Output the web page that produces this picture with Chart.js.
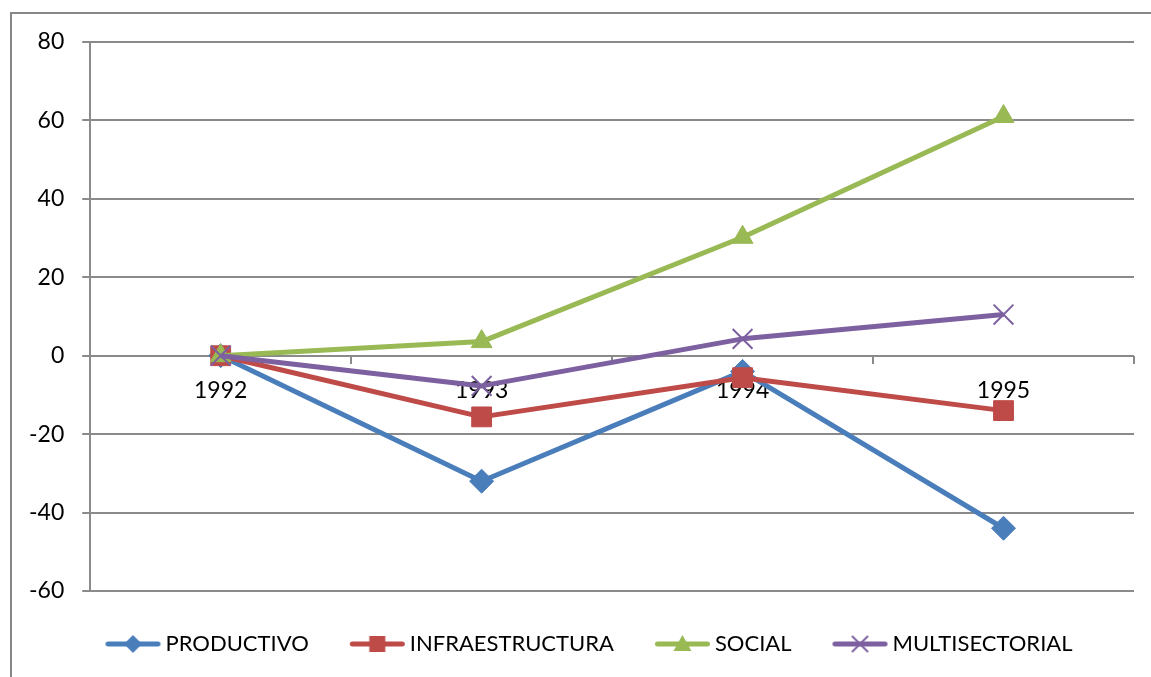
<!DOCTYPE html>
<html>
<head>
<meta charset="utf-8">
<script src="https://cdn.jsdelivr.net/npm/chart.js@4.4.0/dist/chart.umd.min.js"></script>
<style>
  html, body { margin: 0; padding: 0; background: #fff; }
  #wrap { position: relative; width: 1151px; height: 677px; overflow: hidden; }
  #frame { position: absolute; left: 10px; top: 12px; width: 1200px; height: 700px;
           border-left: 2px solid #878787; border-top: 2px solid #878787; }
  canvas { position: absolute; left: 0; top: 0; }
</style>
</head>
<body>
<div id="wrap">
  <div id="frame"></div>
  <canvas id="grafico" width="1151" height="677"></canvas>
</div>
<script>
// datos
var years = ['1992', '1993', '1994', '1995'];
var productivo = [0, -32, -4, -44];
var infraestructura = [0, -15.6, -5.6, -14];
var social = [0, 3.6, 30.2, 61];
var multisectorial = [0, -7.7, 4.3, 10.5];
var yTicks = [-60, -40, -20, 0, 20, 40, 60, 80];

var fuente = { family: 'Lato', size: 23 };
var fuenteLeyenda = { family: 'Lato', size: 22 };
var gris = '#8a8a8a';

// icono de la leyenda: linea con marcador, pegado a la derecha de la caja
function iconoLeyenda(color, forma) {
	var c = document.createElement('canvas');
	c.width = 68; c.height = 22;
	var g = c.getContext('2d');
	var cx = 36.5, cy = 11;
	g.strokeStyle = color;
	g.fillStyle = color;
	g.lineWidth = 5;
	g.lineCap = 'round';
	g.beginPath(); g.moveTo(11.5, cy); g.lineTo(61.5, cy); g.stroke();
	g.beginPath();
	if (forma == 'diamante') {
		g.moveTo(cx, cy - 9); g.lineTo(cx + 9, cy); g.lineTo(cx, cy + 9); g.lineTo(cx - 9, cy); g.closePath(); g.fill();
	} else if (forma == 'cuadro') {
		g.fillRect(cx - 8, cy - 8, 16, 16);
	} else if (forma == 'triangulo') {
		g.moveTo(cx, cy - 9); g.lineTo(cx + 9, cy + 7); g.lineTo(cx - 9, cy + 7); g.closePath(); g.fill();
	} else {
		g.lineWidth = 2; g.lineCap = 'butt';
		g.moveTo(cx - 8, cy - 8); g.lineTo(cx + 8, cy + 8);
		g.moveTo(cx + 8, cy - 8); g.lineTo(cx - 8, cy + 8); g.stroke();
	}
	return c;
}

var iconos = [
	iconoLeyenda('#4a7ebb', 'diamante'),
	iconoLeyenda('#be4b48', 'cuadro'),
	iconoLeyenda('#98b954', 'triangulo'),
	iconoLeyenda('#7d60a0', 'cruz')
];

function serie(label, data, color, estilo, radio, orden) {
	return {
		label: label,
		data: data,
		borderColor: color,
		backgroundColor: color,
		borderWidth: 5,
		borderJoinStyle: 'round',
		tension: 0,
		pointStyle: estilo,
		pointRadius: radio,
		pointBackgroundColor: color,
		pointBorderColor: color,
		pointBorderWidth: estilo == 'crossRot' ? 2 : 1,
		order: orden
	};
}

// la leyenda del original no esta centrada
var moverLeyenda = {
	id: 'moverLeyenda',
	afterLayout: function(chart) {
		chart.legend.left += 17;
		chart.legend.right += 17;
	}
};

const ctx = document.getElementById('grafico').getContext('2d');
const grafico = new Chart(ctx, {
	type: 'line',
	data: {
		labels: years,
		datasets: [
			serie('PRODUCTIVO', productivo, '#4a7ebb', 'rectRot', 12, 3),
			serie('INFRAESTRUCTURA', infraestructura, '#be4b48', 'rect', 14, 2),
			serie('SOCIAL', social, '#98b954', 'triangle', 12, 1),
			serie('MULTISECTORIAL', multisectorial, '#7d60a0', 'crossRot', 14, 0)
		]
	},
	plugins: [moverLeyenda],
	options: {
		responsive: false,
		animation: false,
		devicePixelRatio: 1,
		layout: { padding: { left: 11, right: 17, top: 42, bottom: 12 } },
		scales: {
			x: {
				type: 'category',
				position: { y: 0 },
				offset: true,
				z: 1,
				border: { display: false },
				grid: { offset: true, drawOnChartArea: false, drawTicks: true, tickLength: 8, color: gris, lineWidth: 2 },
				ticks: { padding: 13, color: '#000', font: fuente, maxRotation: 0 }
			},
			y: {
				min: yTicks[0],
				max: yTicks[yTicks.length - 1],
				afterBuildTicks: function(scale) {
					scale.ticks = yTicks.map(function(v) { return { value: v }; });
				},
				border: { display: true, color: gris, width: 2 },
				grid: { color: gris, lineWidth: 2, tickLength: 8 },
				ticks: { padding: 18, color: '#000', font: fuente }
			}
		},
		plugins: {
			tooltip: { enabled: false },
			legend: {
				position: 'bottom',
				labels: {
					usePointStyle: true,
					pointStyleWidth: 48,
					padding: 42,
					color: '#000',
					font: fuenteLeyenda,
					sort: function(a, b) { return a.datasetIndex - b.datasetIndex; },
					generateLabels: function(chart) {
						var items = Chart.defaults.plugins.legend.labels.generateLabels(chart);
						items.forEach(function(it) { it.pointStyle = iconos[it.datasetIndex]; });
						return items;
					}
				}
			}
		}
	}
});
</script>
</body>
</html>
